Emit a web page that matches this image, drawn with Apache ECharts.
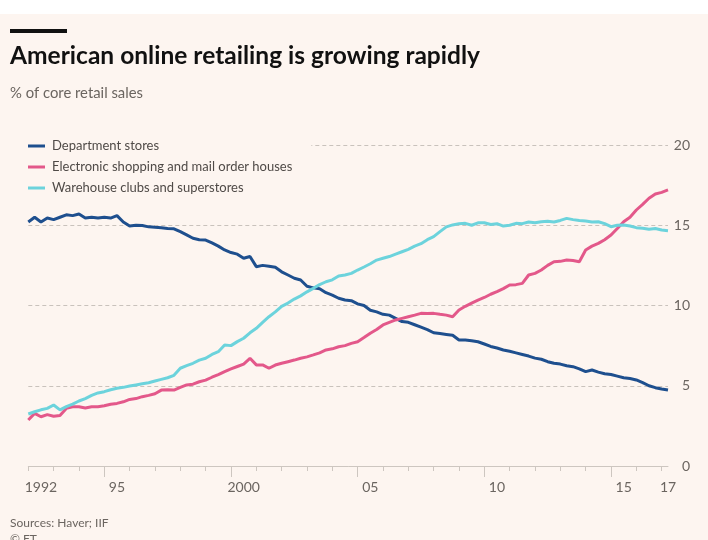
<!DOCTYPE html>
<html>
<head>
<meta charset="utf-8">
<script src="https://cdn.jsdelivr.net/npm/echarts@6/dist/echarts.min.js"></script>
<style>
html,body{margin:0;padding:0;background:#fff;}
#chart{width:708px;height:540px;}
</style>
</head>
<body>
<div id="chart"></div>
<script>
// ---- data (quarterly, 1992 Q1 .. 2017 Q2) ----
const years = [];
for (let y = 1992; y <= 2017; y++) years.push(y);
const categories = [];
years.forEach(y => { for (let q = 1; q <= 4; q++) { if (y === 2017 && q > 2) break; categories.push(y + ' Q' + q); } });

const departmentStores = [
  15.2,15.5,15.2,15.45, 15.35,15.5,15.65,15.6, 15.7,15.45,15.5,15.45, 15.5,15.45,15.6,15.2,
  14.95,15.0,14.98,14.9, 14.87,14.85,14.8,14.78, 14.6,14.4,14.19,14.1, 14.08,13.9,13.7,13.46,
  13.3,13.2,12.94,13.05, 12.42,12.5,12.45,12.38, 12.1,11.9,11.7,11.59, 11.2,11.1,11.05,10.8,
  10.65,10.45,10.34,10.3, 10.1,10.0,9.7,9.6, 9.45,9.4,9.2,9.0, 8.95,8.8,8.65,8.5,
  8.3,8.25,8.2,8.15, 7.85,7.85,7.8,7.74, 7.6,7.45,7.35,7.23, 7.15,7.05,6.95,6.85,
  6.72,6.65,6.5,6.4, 6.35,6.25,6.19,6.05, 5.88,5.98,5.85,5.75, 5.7,5.6,5.5,5.45,
  5.36,5.2,5.0,4.88, 4.8,4.73
];
const electronicShopping = [
  2.87,3.28,3.07,3.2, 3.1,3.15,3.59,3.69, 3.69,3.62,3.69,3.69, 3.75,3.85,3.9,4.0,
  4.15,4.2,4.32,4.4, 4.5,4.73,4.75,4.73, 4.9,5.05,5.1,5.25, 5.35,5.53,5.7,5.88,
  6.05,6.2,6.35,6.71, 6.3,6.3,6.09,6.29, 6.4,6.5,6.6,6.71, 6.8,6.92,7.05,7.23,
  7.3,7.43,7.5,7.64, 7.74,8.0,8.27,8.5, 8.79,8.95,9.1,9.2, 9.3,9.4,9.51,9.5,
  9.51,9.45,9.4,9.3, 9.72,9.95,10.15,10.34, 10.5,10.7,10.86,11.05, 11.28,11.3,11.38,11.9,
  12.0,12.21,12.5,12.73, 12.75,12.83,12.8,12.73, 13.46,13.7,13.87,14.1, 14.39,14.8,15.22,15.5,
  15.95,16.3,16.68,16.95, 17.05,17.2
];
const warehouseClubs = [
  3.24,3.38,3.5,3.59, 3.8,3.5,3.7,3.85, 4.05,4.2,4.4,4.55, 4.63,4.75,4.84,4.9,
  4.98,5.05,5.12,5.19, 5.3,5.4,5.5,5.65, 6.09,6.25,6.4,6.6, 6.71,6.95,7.12,7.54,
  7.5,7.75,7.96,8.3, 8.58,8.95,9.3,9.6, 9.95,10.15,10.4,10.6, 10.85,11.07,11.3,11.48,
  11.6,11.84,11.9,12.0, 12.21,12.4,12.6,12.83, 12.94,13.05,13.2,13.35, 13.5,13.7,13.85,14.1,
  14.29,14.6,14.9,15.02, 15.1,15.12,15.0,15.15, 15.16,15.05,15.1,14.95, 15.0,15.12,15.1,15.2,
  15.15,15.22,15.25,15.2, 15.3,15.43,15.35,15.3, 15.26,15.2,15.22,15.1, 14.91,15.0,15.02,14.95,
  14.85,14.81,14.75,14.8, 14.7,14.66
];
const seriesNames = ['Department stores', 'Electronic shopping and mail order houses', 'Warehouse clubs and superstores'];
const labelYears = [1992, 1995, 2000, 2005, 2010, 2015];
const majorTickYears = [1995, 2000, 2005, 2010, 2015];
const yTicks = [0, 5, 10, 15, 20];

const TITLE = 'American online retailing is growing rapidly';
const SUBTITLE = '% of core retail sales';
const SOURCE = 'Sources: Haver; IIF';
const COPY = '\u00A9 FT';

// ---- helpers ----
const measure = (text, font) => {
  const c = document.createElement('canvas').getContext('2d');
  c.font = font; return c.measureText(text).width;
};
const titleFont = 'bold 25px Lato';
const subFont = '15px Lato';
const titleScale = 470 / measure(TITLE, titleFont);
const subScale = 133 / measure(SUBTITLE, subFont);

const BG = '#fdf5f0';
const GREY = '#6b6560';
const lastIdx = categories.length - 1;

const chart = echarts.init(document.getElementById('chart'));
chart.setOption({
  backgroundColor: BG,
  animation: false,
  graphic: [
    { type: 'rect', left: 0, top: 0, shape: { width: 708, height: 14 }, style: { fill: '#ffffff' } },
    { type: 'rect', x: 10, y: 29, shape: { width: 57, height: 4 }, style: { fill: '#111111' } },
    { type: 'text', x: 10, y: 56, scaleX: titleScale, style: { text: TITLE, font: titleFont, fill: '#111111', verticalAlign: 'middle' } },
    { type: 'text', x: 10, y: 93, scaleX: subScale, style: { text: SUBTITLE, font: subFont, fill: GREY, verticalAlign: 'middle' } },
    { type: 'text', x: 10, y: 523, style: { text: SOURCE, font: '12px Lato', fill: GREY, verticalAlign: 'middle' } },
    { type: 'text', x: 10, y: 539, style: { text: COPY, font: '12px Lato', fill: GREY, verticalAlign: 'middle' } }
  ],
  legend: {
    orient: 'vertical', left: 28, top: 136,
    padding: [2, 19, 2, 0],
    backgroundColor: BG,
    icon: 'rect', itemWidth: 17, itemHeight: 3, itemGap: 5,
    textStyle: { fontFamily: 'Lato', fontSize: 13, color: '#4f4a47', lineHeight: 16, padding: [0, 0, 0, 2] },
    data: seriesNames
  },
  grid: { left: 28.3, right: 40, top: 145, bottom: 74, containLabel: false },
  xAxis: [
    {
      type: 'category', data: categories, boundaryGap: false,
      axisLine: { lineStyle: { color: '#cdc6c0', width: 1 } },
      axisTick: { length: 5, lineStyle: { color: '#cdc6c0' }, interval: (i) => i % 4 === 0 },
      axisLabel: {
        margin: 14, fontFamily: 'Lato', fontSize: 14, color: GREY,
        interval: (i, v) => {
          if (i === lastIdx) return true;
          const y = +v.slice(0, 4);
          return v.endsWith('Q3') && labelYears.includes(y);
        },
        formatter: (v) => {
          const y = +v.slice(0, 4);
          return (y === 1992 || y === 2000) ? String(y) : String(y).slice(2);
        }
      },
      splitLine: { show: false }
    },
    {
      type: 'category', data: categories, boundaryGap: false, position: 'bottom',
      axisLine: { show: false },
      axisTick: { length: 11, lineStyle: { color: '#cdc6c0' },
        interval: (i, v) => v.endsWith('Q1') && majorTickYears.includes(+v.slice(0, 4)) },
      axisLabel: { show: false },
      splitLine: { show: false }
    }
  ],
  yAxis: {
    type: 'value', position: 'right', min: yTicks[0], max: yTicks[yTicks.length - 1], interval: 5,
    axisLine: { show: false }, axisTick: { show: false },
    axisLabel: { align: 'right', margin: 22, fontFamily: 'Lato', fontSize: 14, color: GREY },
    splitLine: { lineStyle: { color: '#c9c2bc', type: [4, 3], width: 1 } }
  },
  series: [
    { name: seriesNames[0], type: 'line', data: departmentStores, showSymbol: false, lineStyle: { color: '#1e4f8e', width: 3 }, itemStyle: { color: '#1e4f8e' } },
    { name: seriesNames[1], type: 'line', data: electronicShopping, showSymbol: false, lineStyle: { color: '#e3588a', width: 3 }, itemStyle: { color: '#e3588a' } },
    { name: seriesNames[2], type: 'line', data: warehouseClubs, showSymbol: false, lineStyle: { color: '#6cd3dc', width: 3 }, itemStyle: { color: '#6cd3dc' } }
  ]
});
</script>
</body>
</html>
